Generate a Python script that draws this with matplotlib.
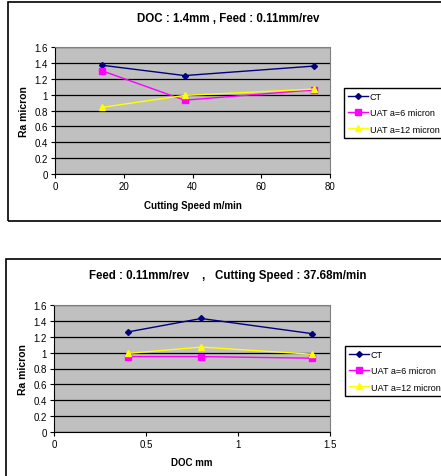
import matplotlib.pyplot as plt
from matplotlib.patches import Rectangle

plt.rcParams['font.family'] = ['Liberation Sans', 'DejaVu Sans']

# chart 1: DOC 1.4mm, feed 0.11mm/rev
speed = [13.7, 37.7, 75.4]
ct_speed = [1.37, 1.24, 1.36]
uat6_speed = [1.30, 0.93, 1.06]
uat12_speed = [0.84, 0.99, 1.07]

# chart 2: feed 0.11mm/rev, cutting speed 37.68m/min
doc = [0.4, 0.8, 1.4]
ct_doc = [1.26, 1.43, 1.24]
uat6_doc = [0.95, 0.95, 0.93]
uat12_doc = [0.99, 1.07, 0.98]

labels = ["CT", "UAT a=6 micron", "UAT a=12 micron"]
W, H = 441, 477

fig = plt.figure(figsize=(W / 100, H / 100), dpi=100)


def box(x0, y0, x1, y1):
    # pixel coords (top-left origin) -> figure fraction
    return [x0 / W, 1 - y1 / H, (x1 - x0) / W, (y1 - y0) / H]


def chart(frame, area, x, ys, xlim, xticks, xticklabels, title, xlabel, title_y, xlabel_y, leg_xy):
    fx = box(*frame)
    fig.patches.append(Rectangle((fx[0], fx[1]), fx[2], fx[3], transform=fig.transFigure,
                                 fill=False, edgecolor='black', linewidth=1.2))
    ax = fig.add_axes(box(*area))
    ax.set_facecolor('#C0C0C0')
    styles = [('#000080', 'D', 3), ('#FF00FF', 's', 4), ('#FFFF00', '^', 5)]
    for y, (c, m, ms), lab in zip(ys, styles, labels):
        ax.plot(x, y, color=c, marker=m, markersize=ms, linewidth=1, label=lab, clip_on=False)
    ax.set_xlim(*xlim)
    ax.set_ylim(0, 1.6)
    ax.set_yticks([0, 0.2, 0.4, 0.6, 0.8, 1, 1.2, 1.4, 1.6])
    ax.set_yticklabels(['0', '0.2', '0.4', '0.6', '0.8', '1', '1.2', '1.4', '1.6'])
    ax.set_xticks(xticks)
    ax.set_xticklabels(xticklabels)
    ax.yaxis.grid(True, color='black', linewidth=0.9)
    ax.set_axisbelow(True)
    ax.tick_params(labelsize=7, length=3, width=0.8, direction='out', pad=2)
    for side in ['top', 'right']:
        ax.spines[side].set_color('#808080')
    for side in ['left', 'bottom']:
        ax.spines[side].set_color('black')
    ax.set_ylabel('Ra micron', fontsize=7.5, fontweight='bold', labelpad=4)
    fig.text(((area[0] + area[2]) / 2) / W, 1 - xlabel_y / H, xlabel, fontsize=7,
             fontweight='bold', ha='center', va='center')
    fig.text(228 / W, 1 - title_y / H, title, fontsize=8.3,
             fontweight='bold', ha='center', va='center')
    ax.legend(loc='upper left', bbox_to_anchor=(leg_xy[0] / W, 1 - leg_xy[1] / H),
              bbox_transform=fig.transFigure, fontsize=6.5, frameon=True, fancybox=False,
              edgecolor='black', framealpha=1, borderpad=0.45, handlelength=2.2,
              handletextpad=0.2, labelspacing=0.8, borderaxespad=0)
    return ax


chart((8, 3, 446, 222), (55, 48, 330, 175), speed, [ct_speed, uat6_speed, uat12_speed],
      (0, 80), [0, 20, 40, 60, 80], ['0', '20', '40', '60', '80'],
      'DOC : 1.4mm , Feed : 0.11mm/rev', 'Cutting Speed m/min', 19, 206, (344, 89))

chart((6, 260, 446, 482), (54, 306, 330, 433), doc, [ct_doc, uat6_doc, uat12_doc],
      (0, 1.5), [0, 0.5, 1, 1.5], ['0', '0.5', '1', '1.5'],
      'Feed : 0.11mm/rev    ,   Cutting Speed : 37.68m/min', 'DOC mm', 276, 463, (345, 347))

fig.savefig('out.png', dpi=100)
